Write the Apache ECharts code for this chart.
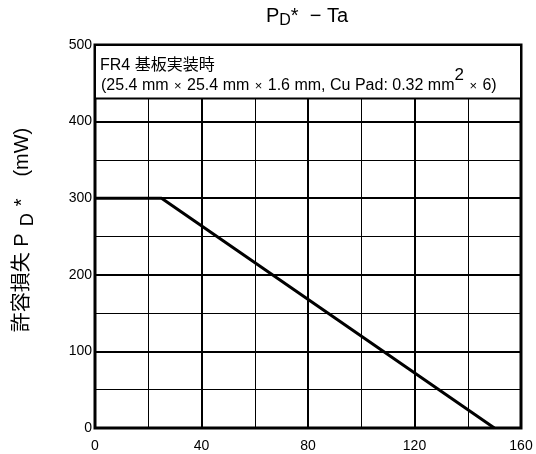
<!DOCTYPE html>
<html>
<head>
<meta charset="utf-8">
<script src="https://cdn.jsdelivr.net/npm/echarts@6/dist/echarts.min.js"></script>
<style>
  html, body { margin: 0; padding: 0; background: #fff; }
  #main { width: 536px; height: 454px; }
</style>
</head>
<body>
<div id="main"></div>
<script>
// 許容損失カーブ (Ta, PD)
const ta = [0, 25, 150]
const pd = [300, 300, 0]
const xTicks = [0, 40, 80, 120, 160]
const yTicks = [0, 100, 200, 300, 400, 500]
// 注記ボックスの範囲 (PD の値)
const noteRange = [430, 500]
const noteTitle = "FR4 基板実装時"

const font = "'Liberation Sans', Arial, 'Noto Sans CJK JP', sans-serif"

let chart = echarts.init(document.getElementById("main"), null, { renderer: "canvas" })

const tok = (size, pad, va) => ({
  fontSize: size,
  fontWeight: "normal",
  color: "#000",
  fontFamily: font,
  verticalAlign: va || "top",
  padding: pad || 0
})

const noteArea = [{ xAxis: xTicks[0], yAxis: noteRange[0] }, { xAxis: xTicks[xTicks.length - 1], yAxis: noteRange[1] }]

let option = {
  backgroundColor: "#fff",
  animation: false,
  textStyle: { fontFamily: font, color: "#000" },
  title: {
    left: 307,
    textAlign: "center",
    top: 6,
    padding: 0,
    text: "{a|P}{sub|D}{a|*  − Ta}",
    textStyle: {
      fontWeight: "normal",
      rich: {
        a: tok(20),
        sub: tok(16, [7, 0, 0, 0])
      }
    }
  },
  grid: {
    left: 95,
    right: 15,
    top: 45,
    bottom: 26,
    show: true,
    borderColor: "#000",
    borderWidth: 3
  },
  xAxis: {
    type: "value",
    min: xTicks[0],
    max: xTicks[xTicks.length - 1],
    interval: 40,
    axisLine: { show: false },
    axisTick: { show: false },
    axisLabel: { color: "#000", fontSize: 14, margin: 11, fontFamily: font },
    splitLine: { show: true, lineStyle: { color: "#000", width: 2 } },
    minorTick: { show: false, splitNumber: 2 },
    minorSplitLine: { show: true, lineStyle: { color: "#000", width: 1 } }
  },
  yAxis: {
    type: "value",
    min: yTicks[0],
    max: yTicks[yTicks.length - 1],
    interval: 100,
    name: "{a|許容損失 P}{sub|D}{st|*}{a|(mW)}",
    nameLocation: "middle",
    nameRotate: 90,
    nameGap: 58,
    nameTextStyle: {
      padding: [0, 0, 0, 13],
      rich: {
        a: tok(20),
        sub: tok(18, [7, 7, 0, 7]),
        st: tok(20, [0, 22, 0, 0])
      }
    },
    axisLine: { show: false },
    axisTick: { show: false },
    axisLabel: { color: "#000", fontSize: 14, margin: 3, fontFamily: font },
    splitLine: { show: true, lineStyle: { color: "#000", width: 2 } },
    minorTick: { show: false, splitNumber: 2 },
    minorSplitLine: { show: true, lineStyle: { color: "#000", width: 1 } }
  },
  series: [
    {
      type: "line",
      data: ta.map((t, i) => [t, pd[i]]),
      symbol: "none",
      lineStyle: { color: "#000", width: 3 },
      z: 5,
      markArea: {
        silent: true,
        data: [
          [
            {
              ...noteArea[0],
              itemStyle: { color: "#fff", borderColor: "#000", borderWidth: 2 },
              label: {
                show: true,
                position: "insideTopLeft",
                distance: 6,
                offset: [0, 8],
                formatter: "{a|" + noteTitle + "}",
                rich: { a: tok(16) }
              }
            },
            noteArea[1]
          ],
          [
            {
              ...noteArea[0],
              itemStyle: { color: "rgba(0,0,0,0)", borderWidth: 0 },
              label: {
                show: true,
                position: "insideTopLeft",
                distance: 6,
                offset: [0, 16],
                formatter: "{b|(25.4 mm }{x|×}{b| 25.4 mm }{x|×}{b| 1.6 mm, Cu Pad: 0.32 mm}{sup|2}{b| }{x|×}{b| 6)}",
                rich: {
                  b: tok(16, 0, "bottom"),
                  x: tok(13, [0, 1, 1, 1], "bottom"),
                  sup: tok(17, [0, 0, 10, 0], "bottom")
                }
              }
            },
            noteArea[1]
          ]
        ]
      }
    }
  ]
}

chart.setOption(option)
</script>
</body>
</html>
